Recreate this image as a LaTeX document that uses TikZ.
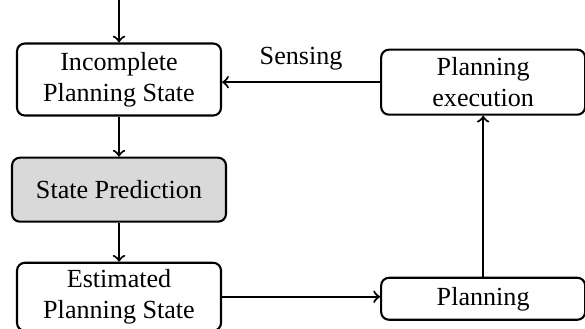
\documentclass[tikz,border=0pt]{standalone}
\usepackage{fontspec}
\setmainfont{Liberation Serif}
\usepackage{tikz}
\usetikzlibrary{positioning}

\begin{document}
\begin{tikzpicture}[auto, >=to, line width=0.8pt,
    block/.style={draw, rounded corners=3pt, align=center,
        minimum width=2.746cm, inner sep=2pt}]
    \useasboundingbox (0,0) rectangle (7.874,-4.415);
    \node [block,
        minimum height=0.969cm
    ]  (Incomplete) at (1.602,-1.070) {Incomplete\\Planning State};
    \node [block,
        fill=black!15,
        minimum width=2.88cm,
        minimum height=0.861cm,
        below=0.54cm of Incomplete
    ]  (Prediction) {State Prediction};
    \node [block,
        minimum height=0.915cm,
        below=0.525cm of Prediction
    ]  (Estimated) {Estimated\\Planning State};
    \node [block,
        minimum height=0.565cm,
        right=2.127cm of Estimated,
        yshift=-0.027cm
    ]  (Planning) {Planning};
    \node [block,
        minimum height=0.875cm,
        above=2.167cm of Planning
    ]  (Execution) {Planning\\execution};

    \coordinate [above=0.58cm of Incomplete] (Start);

    \draw [->] (Start) -- (Incomplete);
    \draw [->] (Incomplete) -- (Prediction);
    \draw [->] (Prediction) -- (Estimated);
    \draw [->] (Estimated.east) -- (Estimated.east -| Planning.west);
    \draw [->] (Planning) -- (Execution);
    \draw [->] (Execution.west) -- node[above=1pt] {Sensing}
        (Execution.west -| Incomplete.east);

\end{tikzpicture}
\end{document}
